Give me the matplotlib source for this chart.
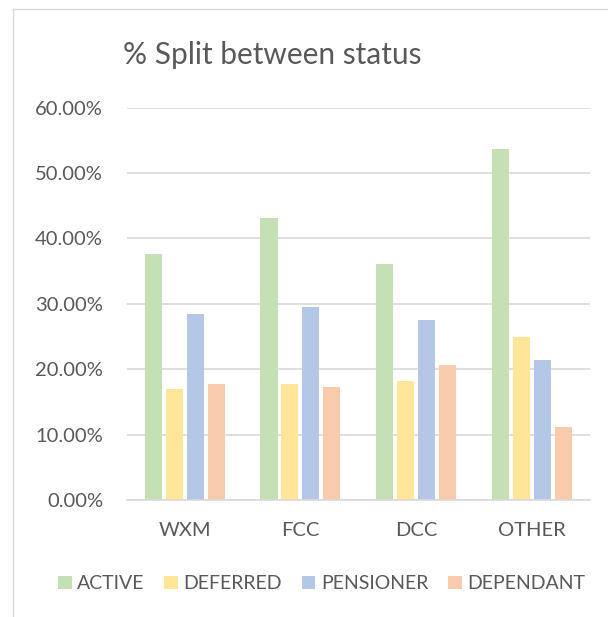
import numpy as np
import matplotlib
matplotlib.use("Agg")
import matplotlib.pyplot as plt
from matplotlib.lines import Line2D
from matplotlib.ticker import PercentFormatter

plt.rcParams['font.family'] = ['Lato', 'DejaVu Sans']

categories = ["WXM", "FCC", "DCC", "OTHER"]
series = ["ACTIVE", "DEFERRED", "PENSIONER", "DEPENDANT"]
active = [0.376, 0.431, 0.361, 0.537]
deferred = [0.170, 0.178, 0.182, 0.249]
pensioner = [0.284, 0.295, 0.276, 0.214]
dependant = [0.177, 0.173, 0.207, 0.112]
colors = ["#C5E0B4", "#FFE699", "#B4C7E7", "#F8CBAD"]
yticks = [0, 0.1, 0.2, 0.3, 0.4, 0.5, 0.6]

text_col = "#595959"
grid_col = "#D9D9D9"

fig = plt.figure(figsize=(6.08, 6.17), dpi=100)
ax = fig.add_axes([0.2084, 0.1896, 0.762, 0.6358])

x = np.arange(len(categories))
pitch = 0.181
width = 0.147
for i, (vals, name) in enumerate(zip([active, deferred, pensioner, dependant], series)):
    ax.bar(x + (i - 1.5) * pitch, vals, width, color=colors[i], label=name, zorder=2)

ax.set_xlim(-0.5, 3.5)
ax.set_ylim(0, 0.6)
ax.set_yticks(yticks)
ax.yaxis.set_major_formatter(PercentFormatter(1.0, decimals=2))
ax.set_xticks(x)
ax.set_xticklabels(categories)
ax.grid(axis='y', color=grid_col, linewidth=1.2, zorder=0)
ax.set_axisbelow(True)
for s in ['top', 'right', 'left']:
    ax.spines[s].set_visible(False)
ax.spines['bottom'].set_color(grid_col)
ax.spines['bottom'].set_linewidth(1.2)
ax.tick_params(axis='both', length=0, labelsize=14.5, colors=text_col)
ax.tick_params(axis='y', pad=17)
ax.tick_params(axis='x', pad=16)

fig.text(0.447, 0.911, "% Split between status", ha='center', va='center',
         fontsize=21.5, color=text_col)

leg = fig.legend(loc='center', bbox_to_anchor=(0.529, 0.054), ncol=4, frameon=False,
                 fontsize=14, handlelength=0.7, handleheight=0.7, handletextpad=0.3,
                 columnspacing=1.0, labelcolor=text_col)

# chart area border (top and left edges visible in crop)
fig.add_artist(Line2D([13/608, 1], [1 - 9/617, 1 - 9/617], transform=fig.transFigure,
                      color=grid_col, linewidth=1))
fig.add_artist(Line2D([13/608, 13/608], [0, 1 - 9/617], transform=fig.transFigure,
                      color=grid_col, linewidth=1))

fig.savefig("out.png", dpi=100)
